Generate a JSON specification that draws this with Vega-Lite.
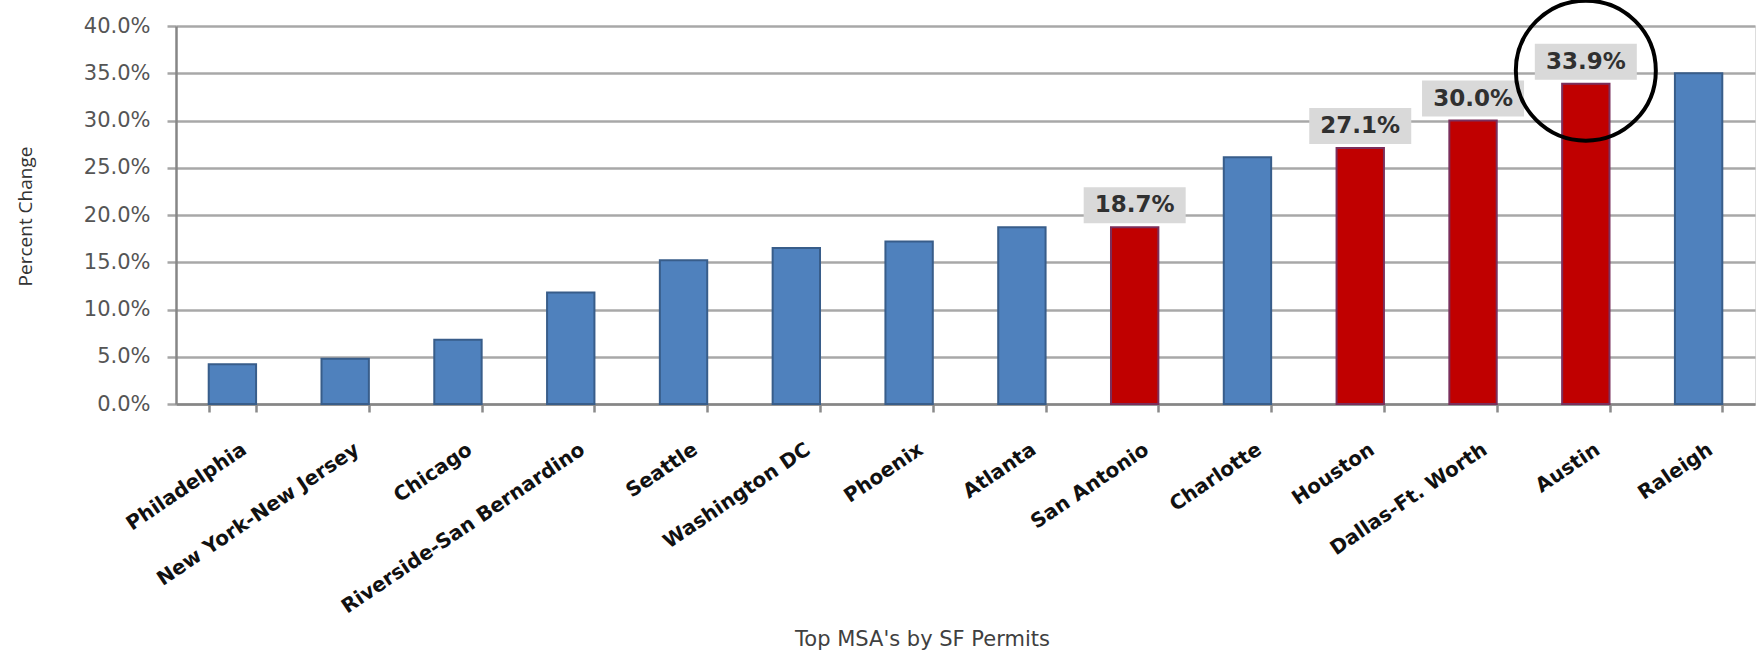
{
  "$schema": "https://vega.github.io/schema/vega-lite/v6.json",
  "autosize": {"type": "none"},
  "width": 1579,
  "height": 378,
  "padding": {"left": 176, "top": 26, "right": 6, "bottom": 248},
  "background": "white",
  "data": {
    "values": [
      {"metro": "Philadelphia", "change": 0.042, "highlight": "no"},
      {"metro": "New York-New Jersey", "change": 0.048, "highlight": "no"},
      {"metro": "Chicago", "change": 0.068, "highlight": "no"},
      {"metro": "Riverside-San Bernardino", "change": 0.118, "highlight": "no"},
      {"metro": "Seattle", "change": 0.152, "highlight": "no"},
      {"metro": "Washington DC", "change": 0.165, "highlight": "no"},
      {"metro": "Phoenix", "change": 0.172, "highlight": "no"},
      {"metro": "Atlanta", "change": 0.187, "highlight": "no"},
      {"metro": "San Antonio", "change": 0.187, "highlight": "yes"},
      {"metro": "Charlotte", "change": 0.261, "highlight": "no"},
      {"metro": "Houston", "change": 0.271, "highlight": "yes"},
      {"metro": "Dallas-Ft. Worth", "change": 0.300, "highlight": "yes"},
      {"metro": "Austin", "change": 0.339, "highlight": "yes"},
      {"metro": "Raleigh", "change": 0.350, "highlight": "no"}
    ]
  },
  "encoding": {
    "x": {
      "field": "metro",
      "type": "nominal",
      "sort": null,
      "scale": {"paddingInner": 0.58, "paddingOuter": 0.29},
      "axis": {
        "title": "Top MSA's by SF Permits",
        "titleFont": "DejaVu Sans",
        "titleFontSize": 21,
        "titleFontWeight": "normal",
        "titleColor": "#404040",
        "titleX": 746,
        "titleY": 235,
        "titleAlign": "center",
        "titleBaseline": "middle",
        "labelAngle": -34,
        "labelAlign": "right",
        "labelBaseline": "top",
        "labelFont": "DejaVu Sans",
        "labelFontSize": 20,
        "labelFontWeight": "bold",
        "labelColor": "#111111",
        "labelLimit": 500,
        "labelPadding": 27,
        "labelOffset": 6,
        "labelOverlap": false,
        "tickBand": "extent",
        "tickSize": 8,
        "tickColor": "#8a8a8a",
        "tickWidth": 2.5,
        "domainColor": "#868686",
        "domainWidth": 2.5,
        "grid": false
      }
    },
    "y": {
      "field": "change",
      "type": "quantitative",
      "scale": {"domain": [0, 0.4], "nice": false},
      "axis": {
        "title": "Percent Change",
        "titleFont": "Open Sans",
        "titleFontSize": 19,
        "titleFontWeight": "normal",
        "titleColor": "#333333",
        "titleX": -151,
        "titleY": 190,
        "titleAlign": "center",
        "titleBaseline": "middle",
        "values": [0, 0.05, 0.1, 0.15, 0.2, 0.25, 0.3, 0.35, 0.4],
        "format": ".1%",
        "labelFont": "DejaVu Sans",
        "labelFontSize": 21,
        "labelColor": "#555555",
        "labelPadding": 17,
        "tickSize": 9,
        "tickColor": "#a6a6a6",
        "tickWidth": 2.5,
        "domainColor": "#868686",
        "domainWidth": 2.5,
        "grid": true,
        "gridColor": "#a8a8a8",
        "gridWidth": 2.5
      }
    }
  },
  "layer": [
    {
      "mark": {"type": "bar", "strokeWidth": 2},
      "encoding": {
        "color": {
          "field": "highlight",
          "type": "nominal",
          "scale": {"domain": ["no", "yes"], "range": ["#4f81bd", "#c00000"]},
          "legend": null
        },
        "stroke": {
          "field": "highlight",
          "type": "nominal",
          "scale": {"domain": ["no", "yes"], "range": ["#385d8a", "#7a2f5c"]},
          "legend": null
        }
      }
    },
    {
      "transform": [{"filter": "datum.highlight === 'yes'"}],
      "mark": {"type": "bar", "width": 102, "color": "#d9d9d9", "yOffset": -40, "y2Offset": -4},
      "encoding": {
        "y2": {"field": "change"}
      }
    },
    {
      "transform": [{"filter": "datum.highlight === 'yes'"}],
      "mark": {"type": "text", "font": "DejaVu Sans", "fontSize": 23, "fontWeight": "bold", "color": "#303030", "dy": -22, "baseline": "middle"},
      "encoding": {
        "text": {"field": "change", "type": "quantitative", "format": ".1%"}
      }
    },
    {
      "transform": [{"filter": "datum.metro === 'Austin'"}],
      "mark": {"type": "point", "shape": "circle", "filled": false, "size": 19600, "stroke": "#000000", "strokeWidth": 4, "opacity": 1, "yOffset": -13, "clip": false},
      "encoding": {}
    }
  ]
}
